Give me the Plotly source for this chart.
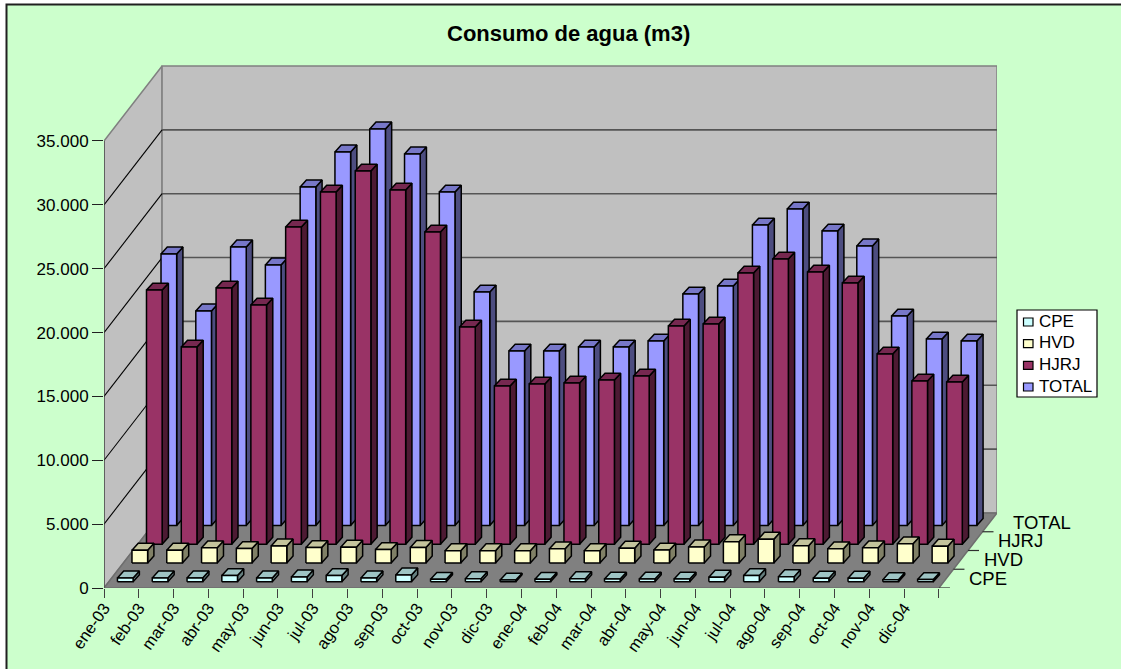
import plotly.graph_objects as go

months = ["ene-03","feb-03","mar-03","abr-03","may-03","jun-03","jul-03","ago-03","sep-03","oct-03","nov-03","dic-03",
          "ene-04","feb-04","mar-04","abr-04","may-04","jun-04","jul-04","ago-04","sep-04","oct-04","nov-04","dic-04"]
series_names = ["CPE", "HVD", "HJRJ", "TOTAL"]
CPE = [290,290,290,470,290,370,470,290,520,180,230,120,180,230,200,200,200,350,470,390,270,270,150,160]
HVD = [987,987,1175,1120,1331,1198,1221,1041,1200,950,950,950,1100,950,1150,1000,1250,1650,1850,1350,1100,1175,1490,1300]
HJRJ = [19890,15425,20045,18714,24821,27562,29206,27718,24430,16991,12371,12528,12606,12841,13154,17069,17226,21219,22316,21298,20436,14877,12763,12685]
TOTAL = [21243,16780,21791,20382,26489,29230,31030,29073,26097,18266,13647,13647,13960,13960,14430,18110,18737,23513,24766,23043,21870,16388,14587,14430]
y_ticks = [0,5000,10000,15000,20000,25000,30000,35000]
y_labels = ["0","5.000","10.000","15.000","20.000","25.000","30.000","35.000"]

front = ["#CCFFFF","#FFFFCC","#993366","#9999FF"]
side = ["#668080","#808066","#4D1A33","#4D4D80"]
top = ["#9EC4C4","#C4C49C","#762850","#7777C8"]

# Pixel scale of the axes in the 1121x669 frame, and the oblique projection of the depth axis
PX_X, PX_Y = 34.75, 63.86 / 5000
SX, SY = 58 / PX_X, 75 / PX_Y
N = len(months)
YMAX = 35000
L, B, R, T = 104, 588, 997, 65
XEND, YEND = N + SX, (B - T) / PX_Y

def proj(x, v, d):
    return x + SX * d, v + SY * d

def poly(points):
    xs, ys = [], []
    for p in points:
        xs.append(p[0]); ys.append(p[1])
    xs.append(points[0][0]); ys.append(points[0][1])
    xs.append(None); ys.append(None)
    return xs, ys

def fill_trace(xs, ys, color, line="#000000", width=1.5, name=None):
    return go.Scatter(x=xs, y=ys, mode="lines", fill="toself", fillcolor=color, name=name,
                      line=dict(color=line, width=width), hoverinfo="skip",
                      showlegend=False, cliponaxis=False)

def line_trace(xs, ys, color, width):
    return go.Scatter(x=xs, y=ys, mode="lines", line=dict(color=color, width=width),
                      hoverinfo="skip", showlegend=False, cliponaxis=False)

def page_x(px):
    return (px - L) / (R - L)

def page_y(py):
    return (B - py) / (B - T)

fig = go.Figure()

# walls and floor
xs, ys = poly([proj(0,0,0), proj(0,YMAX,0), proj(0,YMAX,1), proj(0,0,1)])
fig.add_trace(fill_trace(xs, ys, "#C0C0C0", "#808080", 1.5))
xs, ys = poly([proj(0,0,1), proj(0,YMAX,1), proj(N,YMAX,1), proj(N,0,1)])
fig.add_trace(fill_trace(xs, ys, "#C0C0C0", "#808080", 1.5))
# gridlines
gx, gy, sx, sy = [], [], [], []
for v in y_ticks[1:-1]:
    a, b = proj(0, v, 1); c, e = proj(N, v, 1)
    gx += [a, c, None]; gy += [b, e, None]
    f, g = proj(0, v, 0)
    sx += [f, a, None]; sy += [g, b, None]
fig.add_trace(line_trace(gx, gy, "#555555", 1.6))
fig.add_trace(line_trace(sx, sy, "#000000", 1.1))
xs, ys = poly([proj(0,0,0), proj(N,0,0), proj(N,0,1), proj(0,0,1)])
fig.add_trace(fill_trace(xs, ys, "#808080", "#6E6E6E", 1.5))
# left axis line
fig.add_trace(line_trace([0,0],[0,YMAX],"#404040",1.2))

# bars, back row first
BAR_L, BAR_W = 0.245, 0.45
ROW = 0.25
D0, DD = 0.34, 0.37
SKEW = 0.9 / PX_X
values = [CPE, HVD, HJRJ, TOTAL]
for k in [3, 2, 1, 0]:
    d1 = (k + D0) * ROW
    d2 = (k + D0 + DD) * ROW
    fx, fy, tx, ty, ex, ey = [], [], [], [], [], []
    for i, v in enumerate(values[k]):
        x1 = i + BAR_L
        x2 = x1 + BAR_W
        p = poly([proj(x1,0,d1), proj(x2,0,d1), proj(x2,v,d1), proj(x1,v,d1)])
        fx += p[0]; fy += p[1]
        p = poly([proj(x1,v,d1), proj(x2,v,d1), proj(x2+SKEW,v,d2), proj(x1+SKEW,v,d2)])
        tx += p[0]; ty += p[1]
        p = poly([proj(x2,0,d1), proj(x2+SKEW,0,d2), proj(x2+SKEW,v,d2), proj(x2,v,d1)])
        ex += p[0]; ey += p[1]
    fig.add_trace(fill_trace(ex, ey, side[k]))
    fig.add_trace(fill_trace(tx, ty, top[k]))
    fig.add_trace(fill_trace(fx, fy, front[k], name=series_names[k]))

# depth axis ticks and labels
tick_len = 11 / PX_X
dx, dy = [], []
for k in range(5):
    a, b = proj(N, 0, k * ROW)
    dx += [a, a + tick_len, None]; dy += [b, b, None]
fig.add_trace(line_trace(dx, dy, "#303030", 1.2))
annotations = []
for k, name in enumerate(series_names):
    a, b = proj(N, 0, (k + 1) * ROW)
    annotations.append(dict(x=(a + tick_len) / XEND, y=b / YEND, xref="paper", yref="paper", text=name, showarrow=False,
                            xanchor="left", yanchor="middle", xshift=3, yshift=-9,
                            font=dict(family="Liberation Sans", size=18.5, color="#000000")))

annotations.append(dict(x=page_x(568), y=page_y(33), xref="paper", yref="paper", text="<b>Consumo de agua (m3)</b>",
                        showarrow=False, xanchor="center", yanchor="middle",
                        font=dict(family="Liberation Sans", size=22, color="#000000")))

shapes = [dict(type="rect", xref="paper", yref="paper", layer="below",
               x0=page_x(6.5), x1=page_x(1130), y0=page_y(680), y1=page_y(4.5),
               fillcolor="#CCFFCC", line=dict(color="#202020", width=2))]

# legend box
shapes.append(dict(type="rect", xref="paper", yref="paper", x0=page_x(1017), x1=page_x(1097), y0=page_y(397), y1=page_y(310),
                   fillcolor="#FFFFFF", line=dict(color="#000000", width=1.2)))
legend_rows = [322, 343.7, 365.3, 387]
for k, name in enumerate(series_names):
    r = legend_rows[k]
    shapes.append(dict(type="rect", xref="paper", yref="paper", x0=page_x(1023.5), x1=page_x(1033), y0=page_y(r + 4), y1=page_y(r - 4),
                       fillcolor=front[k], line=dict(color="#000000", width=1.2)))
    annotations.append(dict(x=page_x(1039), y=page_y(r - 1), xref="paper", yref="paper", text=name, showarrow=False,
                            xanchor="left", yanchor="middle", xshift=-2,
                            font=dict(family="Liberation Sans", size=17, color="#000000")))

fig.update_layout(
    width=1121, height=669, autosize=False,
    margin=dict(l=L, r=1121-R, t=T, b=669-B, pad=0),
    paper_bgcolor="#FFFFFF", plot_bgcolor="rgba(0,0,0,0)",
    showlegend=False,
    xaxis=dict(range=[0, XEND], tickvals=list(range(N + 1)), ticktext=months + [""], tickangle=-55,
               ticks="outside", ticklen=9, tickcolor="#404040", tickwidth=1, showgrid=False, zeroline=False, showline=False,
               ticklabelstandoff=-6, automargin=False,
               tickfont=dict(family="Liberation Sans", size=16.5, color="#000000"), fixedrange=True),
    yaxis=dict(range=[0, YEND], tickvals=y_ticks, ticktext=y_labels,
               ticks="outside", ticklen=11, tickcolor="#202020", tickwidth=1, showgrid=False, zeroline=False, showline=False,
               automargin=False, tickfont=dict(family="Liberation Sans", size=17, color="#000000"), fixedrange=True),
    annotations=annotations,
    shapes=shapes,
)

fig.write_html("out.html", post_script="document.body.style.margin='0';", config=dict(displayModeBar=False))
